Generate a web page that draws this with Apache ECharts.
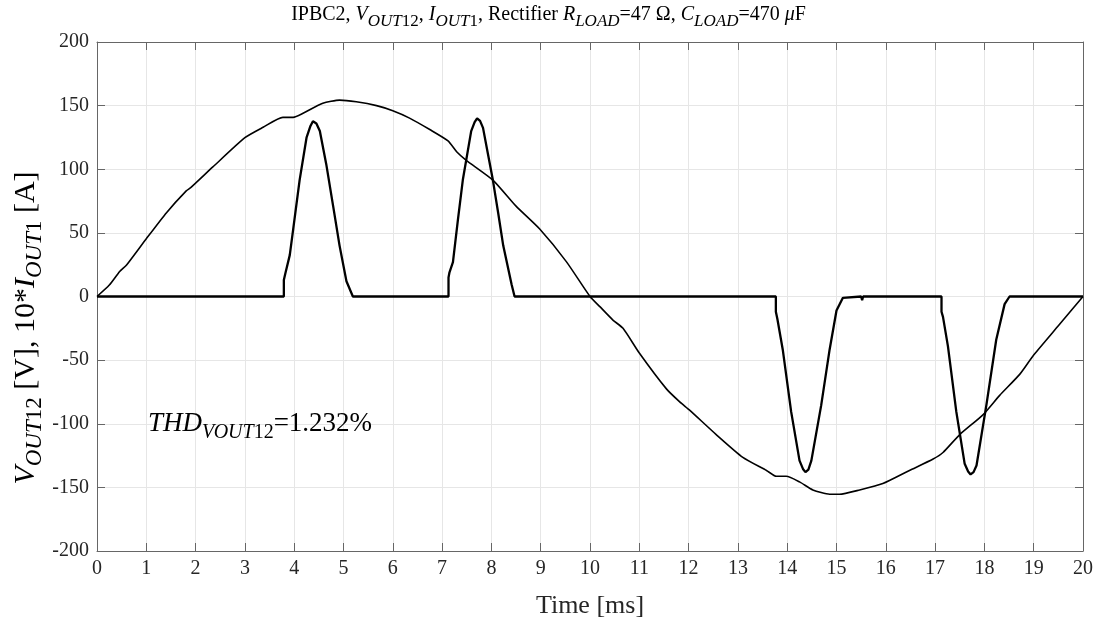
<!DOCTYPE html>
<html>
<head>
<meta charset="utf-8">
<script src="https://cdn.jsdelivr.net/npm/echarts@6/dist/echarts.min.js"></script>
<style>
html,body{margin:0;padding:0;background:#fff;}
#c{width:1097px;height:624px;}
</style>
</head>
<body>
<div id="c"></div>
<script>
// Voltage V_OUT12 [V]: time [ms] and values
const voltT = [0,0.25,0.46,0.6,1.0,1.41,1.81,1.9,2.35,3.0,3.37,3.77,3.98,4.18,4.58,4.92,5.26,5.67,6.0,6.34,6.75,7.12,7.3,7.49,8.03,8.5,8.98,9.52,10.0,10.2,10.47,10.67,11.0,11.55,11.82,12.02,12.56,13.1,13.58,13.78,13.98,14.25,14.52,14.86,15.06,15.47,15.94,16.48,16.96,17.16,17.5,17.97,18.31,18.72,19.0,19.5,20];
const voltV = [0,9,19.7,24.8,45.4,65.9,83,85.5,101.8,124.8,133,140.8,140.8,144,151.8,154.3,153,150,146,140.2,131.2,122.3,113.5,107,91.5,71,53,27.4,0,-8,-18.7,-25,-44.4,-72.6,-82.8,-89.3,-108.5,-126.4,-136.7,-141.3,-141.3,-145.7,-152,-155.4,-155.4,-152,-147,-136.7,-127.7,-122.6,-108.5,-93,-77.7,-61,-46,-23,0];
// Current 10*I_OUT1 [A]
const curT = [0,3.79,3.79,3.82,3.91,3.98,4.11,4.25,4.33,4.38,4.45,4.52,4.65,4.79,4.92,5.06,5.19,7.13,7.13,7.15,7.22,7.32,7.42,7.59,7.66,7.71,7.77,7.83,7.93,8.03,8.14,8.24,8.41,8.47,13.77,13.77,13.8,13.91,14.08,14.25,14.32,14.37,14.43,14.49,14.69,14.86,15.0,15.13,15.16,15.5,15.52,15.54,17.13,17.13,17.16,17.26,17.43,17.6,17.67,17.72,17.78,17.84,18.04,18.24,18.41,18.51,20];
const curV = [0,0,13,18,32.5,53,91.5,124.8,134,137.7,136,130,104,71,40,12,0,0,15,19,27,60,91.5,130,137,140,138,132.5,112,91.5,65,40,9.5,0,0,-12,-17.5,-41.8,-90.5,-129,-135.5,-138,-136,-129,-85.4,-41.8,-11,-1,0,0,-3,0,0,-12,-16,-39,-90.5,-131.5,-137.5,-139.8,-138,-132.8,-85.4,-34,-6,0,0];
const xTicks = {min:0, max:20, interval:1};
const yTicks = {min:-200, max:200, interval:50};
const titleText = '{n|IPBC2, }{i|V}{si|OUT}{sn|12}{n|, }{i|I}{si|OUT}{sn|1}{n|, Rectifier }{i|R}{si|LOAD}{n|=47 Ω, }{i|C}{si|LOAD}{n|=470 }{i|μ}{n|F}';
const yLabelText = '{i|V}{si|OUT}{sn|12}{n| [V], 10*}{i|I}{si|OUT}{sn|1}{n| [A]}';
const thdText = '{i|THD}{si|VOUT}{sn|12}{n|=1.232%}';

const zip = (a,b)=>a.map((x,i)=>[x,b[i]]);
const FF = '"Liberation Serif", "Times New Roman", serif';
function richSet(main, sub, drop){
  return {
    n:{fontFamily:FF,fontSize:main,lineHeight:main+2,verticalAlign:'top',color:'#000'},
    i:{fontFamily:FF,fontSize:main,fontStyle:'italic',lineHeight:main+2,verticalAlign:'top',color:'#000'},
    si:{fontFamily:FF,fontSize:sub,fontStyle:'italic',lineHeight:sub+2,padding:[drop,0,0,0],verticalAlign:'top',color:'#000'},
    sn:{fontFamily:FF,fontSize:sub,lineHeight:sub+2,padding:[drop,0,0,0],verticalAlign:'top',color:'#000'}
  };
}
const chart = echarts.init(document.getElementById('c'), null, {renderer:'canvas'});
const axisCol = '#666';
const lblStyle = {fontFamily:FF, fontSize:20, color:'#262626'};
chart.setOption({
  animation:false,
  backgroundColor:'#fff',
  grid:{left:97, right:14, top:42, bottom:62, containLabel:false},
  xAxis:[{
    type:'value', min:xTicks.min, max:xTicks.max, interval:xTicks.interval, position:'bottom',
    axisLine:{show:true,onZero:false,lineStyle:{color:axisCol,width:1}},
    axisTick:{show:true,inside:true,length:8,lineStyle:{color:axisCol}},
    axisLabel:Object.assign({margin:8}, lblStyle),
    splitLine:{show:true,lineStyle:{color:'#e6e6e6',width:1}},
    name:'Time [ms]', nameLocation:'middle', nameGap:42,
    nameTextStyle:{fontFamily:FF,fontSize:26,color:'#262626'}
  },{
    type:'value', min:xTicks.min, max:xTicks.max, interval:xTicks.interval, position:'top',
    axisLine:{show:true,onZero:false,lineStyle:{color:axisCol,width:1}},
    axisTick:{show:true,inside:true,length:8,lineStyle:{color:axisCol}},
    axisLabel:{show:false}, splitLine:{show:false}
  }],
  yAxis:[{
    type:'value', min:yTicks.min, max:yTicks.max, interval:yTicks.interval, position:'left',
    axisLine:{show:true,onZero:false,lineStyle:{color:axisCol,width:1}},
    axisTick:{show:true,inside:true,length:8,lineStyle:{color:axisCol}},
    axisLabel:Object.assign({margin:8}, lblStyle),
    splitLine:{show:true,lineStyle:{color:'#e6e6e6',width:1}}
  },{
    type:'value', min:yTicks.min, max:yTicks.max, interval:yTicks.interval, position:'right',
    axisLine:{show:true,onZero:false,lineStyle:{color:axisCol,width:1}},
    axisTick:{show:true,inside:true,length:8,lineStyle:{color:axisCol}},
    axisLabel:{show:false}, splitLine:{show:false}
  }],
  series:[{
    type:'line', data:zip(voltT,voltV), showSymbol:false, smooth:0.2,
    lineStyle:{color:'#000',width:1.6}, z:3
  },{
    type:'line', data:zip(curT,curV), showSymbol:false, smooth:false,
    lineStyle:{color:'#000',width:2.3}, z:3
  }],
  graphic:[{
    type:'text', left:'center', top:5, z:10,
    style:{text:titleText, rich:richSet(20,17,8), textAlign:'center'}
  },{
    type:'text', x:11, y:328, rotation:Math.PI/2, z:10,
    style:{text:yLabelText, rich:richSet(30,23,12), textAlign:'center', textVerticalAlign:'top'}
  },{
    type:'text', x:148, y:410, z:10,
    style:{text:thdText, rich:richSet(27,20,13), textAlign:'left', textVerticalAlign:'top'}
  }]
});
</script>
</body>
</html>
